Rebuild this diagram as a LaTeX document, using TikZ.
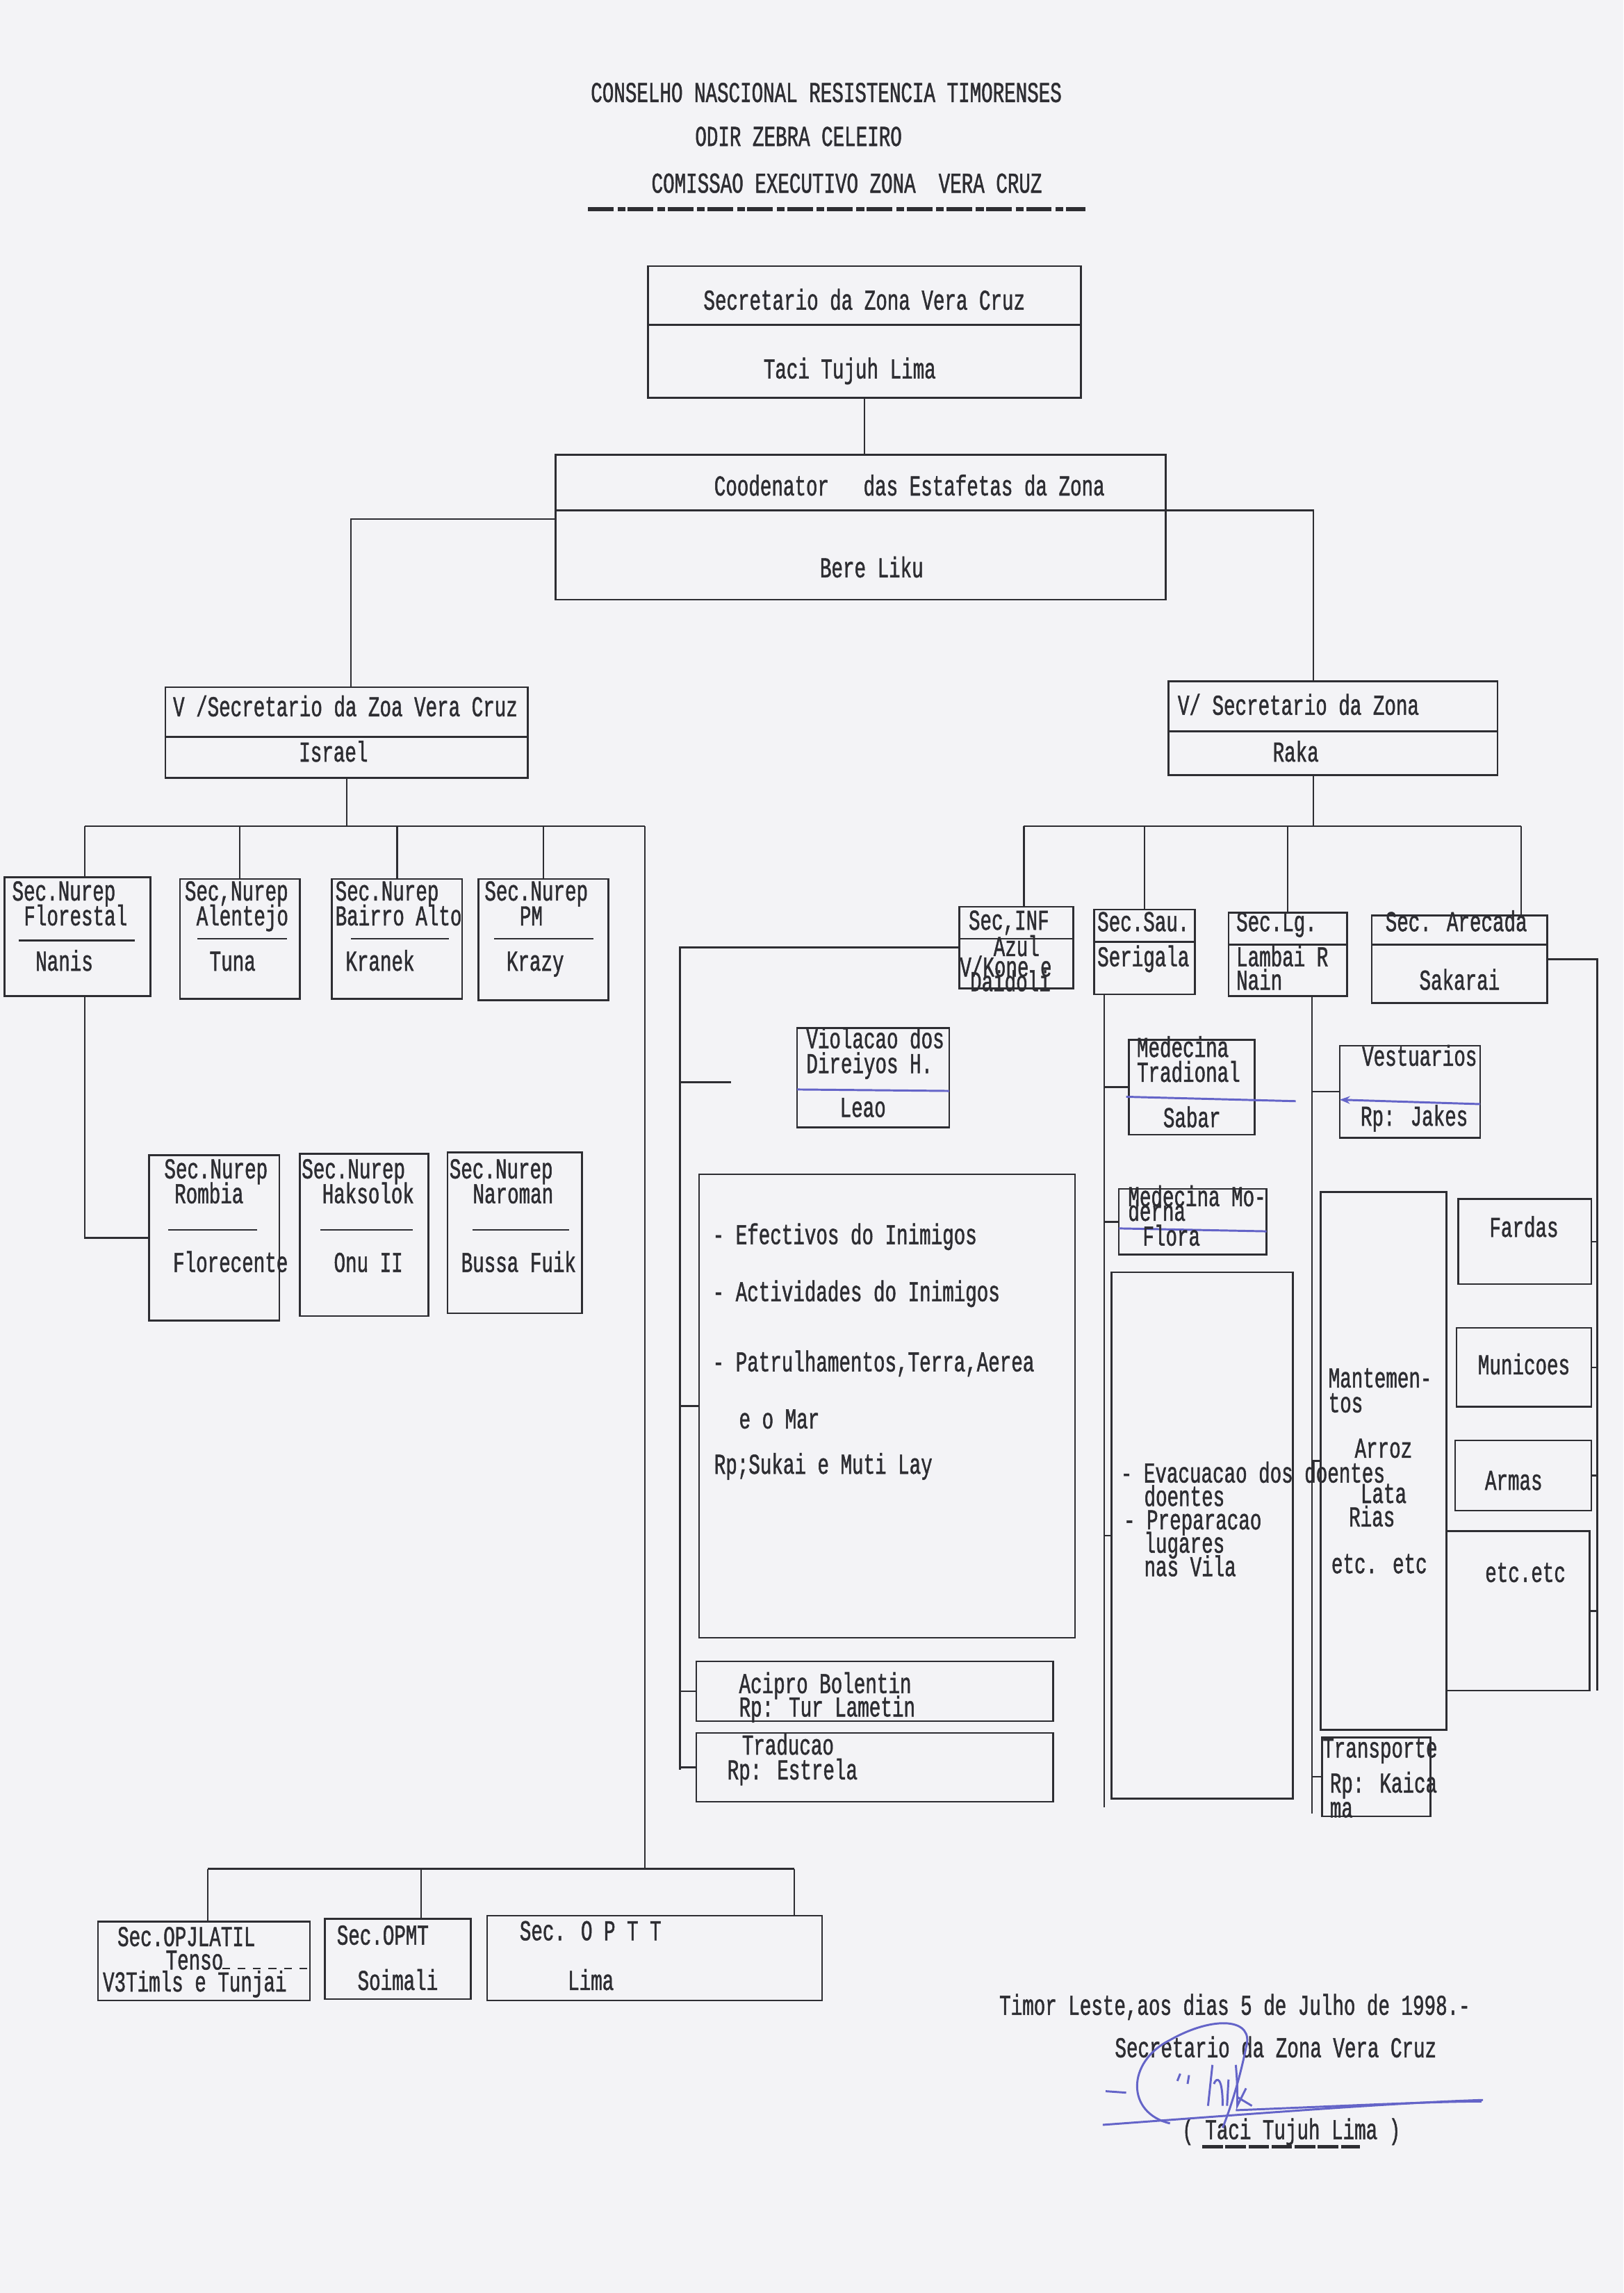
\documentclass[tikz,border=0pt]{standalone}
\usepackage{fontspec}
\newfontfamily\typew{Liberation Mono}[FakeStretch=0.665, FakeBold=1.2]
\usepackage{tikz}
\usetikzlibrary{arrows.meta, positioning, fit, calc}
\definecolor{paper}{RGB}{243,243,246}
\definecolor{ink}{RGB}{45,45,50}
\definecolor{pen}{RGB}{100,100,200}

\begin{document}
\begin{tikzpicture}[
    x=0.02cm, y=-0.02cm,
    every node/.style={font=\typew\fontsize{11.2}{12}\selectfont, text=ink, inner sep=0pt},
    box/.style={draw=ink, line width=0.7pt, fit={#1}},
    tl/.style={anchor=mid west},
    tc/.style={anchor=mid},
    link/.style={draw=ink, line width=0.7pt},
    penline/.style={draw=pen, line width=0.8pt},
    hdrule/.style={draw=ink, line width=1.8pt, dash pattern=on 10pt off 1.5pt on 3pt off 1pt}
]
    % Paper
    \fill[paper] (0,0) rectangle (1110,1568);
    \useasboundingbox (0,0) rectangle (1110,1568);

    % Heading
    \node[tc] (hd1) at (565,66) {CONSELHO NASCIONAL RESISTENCIA TIMORENSES};
    \node[tc] (hd2) at (546,96) {ODIR ZEBRA CELEIRO};
    \node[tc] (hd3) at (579,128) {COMISSAO EXECUTIVO ZONA\ \ VERA CRUZ};
    \draw[hdrule] (402,143) -- (742,143);

    % Secretario and Coodenator
    \node[box={(443,182) (739,272)}] (sec) {};
    \draw[link] (sec.west |- 0,222) -- (sec.east |- 0,222);
    \node[tc] (secT) at (591,208) {Secretario da Zona Vera Cruz};
    \node[tc] (secN) at (581,255) {Taci Tujuh Lima};

    \node[box={(380,311) (797,410)}] (cod) {};
    \draw[link] (cod.west |- 0,349) -- (cod.east |- 0,349);
    \node[tl] (codT) at (488,335) {Coodenator\ \ \ das Estafetas da Zona};
    \node[tc] (codN) at (596,391) {Bere Liku};
    \draw[link] (sec.south) -- (sec.south |- cod.north);

    % Vice secretarios
    \node[box={(113,470) (361,532)}] (vsl) {};
    \draw[link] (vsl.west |- 0,504) -- (vsl.east |- 0,504);
    \node[tl] (vslT) at (118,486) {V /Secretario da Zoa Vera Cruz};
    \node[tc] (vslN) at (228,517) {Israel};

    \node[box={(799,466) (1024,530)}] (vsr) {};
    \draw[link] (vsr.west |- 0,500) -- (vsr.east |- 0,500);
    \node[tl] (vsrT) at (805,485) {V/ Secretario da Zona};
    \node[tc] (vsrN) at (886,517) {Raka};

    \coordinate (jL) at (240,355);
    \coordinate (jR) at (898,349);
    \draw[link] (cod.west |- jL) -- (jL) -- (jL |- vsl.north);
    \draw[link] (cod.east |- jR) -- (jR) -- (jR |- vsr.north);

    % Nurep, first row
    \node[box={(3,600) (103,681)}] (nfl) {};
    \draw[link] (13,643) -- (92,643);
    \node[tl] (nflA) at (8,612) {Sec.Nurep};
    \node[tl] (nflB) at (16,629) {Florestal};
    \node[tl] (nflC) at (24,660) {Nanis};

    \node[box={(123,601) (205,683)}] (nal) {};
    \draw[link] (135,642) -- (196,642);
    \node[tl] (nalA) at (126,612) {Sec,Nurep};
    \node[tl] (nalB) at (134,629) {Alentejo};
    \node[tl] (nalC) at (143,660) {Tuna};

    \node[box={(227,601) (316,683)}] (nba) {};
    \draw[link] (240,642) -- (307,642);
    \node[tl] (nbaA) at (229,612) {Sec.Nurep};
    \node[tl] (nbaB) at (229,629) {Bairro Alto};
    \node[tl] (nbaC) at (236,660) {Kranek};

    \node[box={(327,601) (416,684)}] (npm) {};
    \draw[link] (338,642) -- (406,642);
    \node[tl] (npmA) at (331,612) {Sec.Nurep};
    \node[tl] (npmB) at (355,629) {PM};
    \node[tl] (npmC) at (346,660) {Krazy};

    \coordinate (hL1) at (58,565);
    \coordinate (hL2) at (441,565);
    \draw[link] (vsl.south) -- (vsl.south |- hL1);
    \draw[link] (hL1) -- (hL2);
    \draw[link] (hL1) -- (hL1 |- nfl.north);
    \foreach \b in {nal, nba, npm}
        \draw[link] (hL1 -| \b.north) -- (\b.north);

    % Nurep, second row
    \node[box={(102,790) (191,903)}] (nro) {};
    \draw[link] (115,841) -- (176,841);
    \node[tl] (nroA) at (112,802) {Sec.Nurep};
    \node[tl] (nroB) at (119,819) {Rombia};
    \node[tl] (nroC) at (118,866) {Florecente};

    \node[box={(205,789) (293,900)}] (nha) {};
    \draw[link] (219,841) -- (282,841);
    \node[tl] (nhaA) at (206,802) {Sec.Nurep};
    \node[tl] (nhaB) at (220,819) {Haksolok};
    \node[tl] (nhaC) at (228,866) {Onu II};

    \node[box={(306,788) (398,898)}] (nna) {};
    \draw[link] (323,841) -- (389,841);
    \node[tl] (nnaA) at (307,802) {Sec.Nurep};
    \node[tl] (nnaB) at (323,819) {Naroman};
    \node[tl] (nnaC) at (315,866) {Bussa Fuik};

    \draw[link] (hL1 |- nfl.south) |- (nro.west);

    % Sectors under Raka
    \node[box={(656,620) (734,676)}] (inf) {};
    \draw[link] (inf.west |- 0,642) -- (inf.east |- 0,642);
    \node[tl] (infA) at (662,632) {Sec,INF};
    \node[tl] (infB) at (679,650) {Azul};
    \node[tl] (infC) at (656,664) {V/Kone e};
    \node[tl] (infD) at (663,674) {Daidoli};

    \node[box={(748,622) (817,680)}] (sau) {};
    \draw[link] (sau.west |- 0,644) -- (sau.east |- 0,644);
    \node[tl] (sauA) at (750,633) {Sec.Sau.};
    \node[tl] (sauB) at (750,657) {Serigala};

    \node[box={(840,624) (921,681)}] (slg) {};
    \draw[link] (slg.west |- 0,646) -- (slg.east |- 0,646);
    \node[tl] (slgA) at (845,633) {Sec.Lg.};
    \node[tl] (slgB) at (845,657) {Lambai R};
    \node[tl] (slgC) at (845,673) {Nain};

    \node[box={(938,626) (1058,686)}] (sar) {};
    \draw[link] (sar.west |- 0,646) -- (sar.east |- 0,646);
    \node[tl] (sarA) at (947,633) {Sec. Arecada};
    \node[tc] (sarB) at (998,673) {Sakarai};

    \coordinate (hR1) at (700,565);
    \coordinate (hR2) at (1040,565);
    \draw[link] (jR |- vsr.south) -- (jR |- hR1);
    \draw[link] (hR1) -- (hR2);
    \draw[link] (hR1) -- (hR1 |- inf.north);
    \draw[link] (hR2) -- (hR2 |- sar.north);
    \foreach \b in {sau, slg}
        \draw[link] (hR1 -| \b.north) -- (\b.north);

    % Informacao
    \node[box={(545,703) (649,771)}] (vio) {};
    \draw[penline] (545,745) -- (649,746);
    \node[tl] (vioA) at (551,713) {Violacao dos};
    \node[tl] (vioB) at (551,730) {Direiyos H.};
    \node[tc] (vioC) at (590,760) {Leao};

    \node[box={(478,803) (735,1120)}] (eff) {};
    \node[tl] (effA) at (487,847) {- Efectivos do Inimigos};
    \node[tl] (effB) at (487,886) {- Actividades do Inimigos};
    \node[tl] (effC) at (487,934) {- Patrulhamentos,Terra,Aerea};
    \node[tl] (effD) at (505,973) {e o Mar};
    \node[tl] (effE) at (488,1004) {Rp;Sukai e Muti Lay};

    \node[box={(476,1136) (720,1177)}] (aci) {};
    \node[tl] (aciA) at (505,1154) {Acipro Bolentin};
    \node[tl] (aciB) at (505,1170) {Rp: Tur Lametin};

    \node[box={(476,1185) (720,1232)}] (tra) {};
    \node[tl] (traA) at (507,1196) {Traducao};
    \node[tl] (traB) at (497,1213) {Rp: Estrela};

    \coordinate (jI) at (465,1210);
    \coordinate (vioStub) at (500,740);
    \draw[link] (inf.west) -| (jI);
    \draw[link] (jI |- vioStub) -- (vioStub);
    \foreach \b in {eff, aci, tra}
        \draw[link] (jI |- \b.west) -- (\b.west);

    % Saude
    \node[box={(772,711) (858,776)}] (mtr) {};
    \draw[penline] (770,750) -- (886,753);
    \node[tl] (mtrA) at (777,719) {Medecina};
    \node[tl] (mtrB) at (777,736) {Tradional};
    \node[tc] (mtrC) at (815,767) {Sabar};

    \node[box={(765,813) (866,858)}] (mmo) {};
    \draw[penline] (765,840) -- (866,842);
    \node[tl] (mmoA) at (771,821) {Medecina Mo-};
    \node[tl] (mmoB) at (771,831) {derna};
    \node[tl] (mmoC) at (781,848) {Flora};

    \node[box={(760,870) (884,1230)}] (eva) {};
    \node[tl] (evaA) at (766,1010) {- Evacuacao dos doentes};
    \node[tl] (evaB) at (782,1026) {doentes};
    \node[tl] (evaC) at (768,1042) {- Preparacao};
    \node[tl] (evaD) at (782,1058) {lugares};
    \node[tl] (evaE) at (782,1074) {nas Vila};

    \coordinate (jS) at (755,1236);
    \draw[link] (jS |- sau.south) -- (jS);
    \foreach \b in {mtr, mmo, eva}
        \draw[link] (jS |- \b.west) -- (\b.west);

    % Logistica
    \node[box={(916,715) (1012,778)}] (ves) {};
    \draw[penline, -{Stealth[length=4pt]}] (1012,755) -- (916,752);
    \node[tl] (vesA) at (931,725) {Vestuarios};
    \node[tl] (vesB) at (930,766) {Rp: Jakes};

    \node[box={(903,815) (989,1183)}] (man) {};
    \node[tl] (manA) at (908,945) {Mantemen-};
    \node[tl] (manB) at (908,962) {tos};
    \node[tl] (manC) at (926,993) {Arroz};
    \node[tl] (manD) at (930,1024) {Lata};
    \node[tl] (manE) at (922,1040) {Rias};
    \node[tl] (manF) at (910,1072) {etc. etc};

    \node[box={(904,1188) (978,1242)}] (tsp) {};
    \node[tl] (tspA) at (904,1198) {Transporte};
    \node[tl] (tspB) at (909,1222) {Rp: Kaica};
    \node[tl] (tspC) at (909,1239) {ma};

    \coordinate (jG) at (897,1240);
    \draw[link] (jG |- slg.south) -- (jG);
    \foreach \b in {ves, man, tsp}
        \draw[link] (jG |- \b.west) -- (\b.west);

    % Arecada
    \node[box={(997,820) (1088,878)}] (far) {};
    \node[tc] (farA) at (1042,842) {Fardas};
    \node[box={(996,908) (1088,962)}] (mun) {};
    \node[tc] (munA) at (1042,936) {Municoes};
    \node[box={(995,985) (1088,1033)}] (arm) {};
    \node[tc] (armA) at (1035,1015) {Armas};
    \node[box={(989,1047) (1087,1156)}] (etc) {};
    \node[tc] (etcA) at (1043,1078) {etc.etc};

    \coordinate (jA) at (1092,1156);
    \draw[link] (sar.east) -| (jA);
    \foreach \b in {far, mun, arm, etc}
        \draw[link] (\b.east) -- (\b.east -| jA);

    % Bottom row
    \node[box={(67,1314) (212,1368)}] (opj) {};
    \draw[link, dashed] (152,1346) -- (opj.east |- 0,1346);
    \node[tl] (opjA) at (80,1327) {Sec.OPJLATIL};
    \node[tc] (opjB) at (133,1343) {Tenso};
    \node[tl] (opjC) at (70,1358) {V3Timls e Tunjai};

    \node[box={(222,1312) (322,1367)}] (opm) {};
    \node[tl] (opmA) at (230,1326) {Sec.OPMT};
    \node[tc] (opmB) at (272,1357) {Soimali};

    \node[box={(333,1310) (562,1368)}] (opt) {};
    \node[tl] (optA) at (355,1323) {Sec. O P T T};
    \node[tc] (optB) at (404,1357) {Lima};

    \coordinate (hB1) at (142,1278);
    \coordinate (hB2) at (543,1278);
    \coordinate (hB3) at (288,1278);
    \draw[link] (hL2) -- (hL2 |- hB1);
    \draw[link] (hB1) -- (hB2);
    \foreach \c/\b in {hB1/opj, hB3/opm, hB2/opt}
        \draw[link] (\c) -- (\c |- \b.north);

    % Closing and signature
    \node[tl] (place) at (683,1374) {Timor Leste,aos dias 5 de Julho de 1998.-};
    \node[tl] (role) at (762,1403) {Secretario da Zona Vera Cruz};
    \node[tl] (who) at (808,1459) {( Taci Tujuh Lima )};
    \draw[ink, line width=1.4pt, dash pattern=on 8pt off 1pt] (822,1468) -- (930,1468);

    \draw[penline] (756,1430) -- (770,1431);
    \draw[penline] (800,1452) .. controls (770,1445) and (770,1410) .. (800,1395)
        .. controls (830,1378) and (858,1380) .. (852,1400)
        .. controls (848,1420) and (842,1440) .. (836,1455);
    \draw[penline] (805,1423) -- (807,1418) (812,1425) -- (813,1419);
    \draw[penline] (826,1440) -- (829,1412) (830,1425) .. controls (832,1420) and (836,1420) .. (836,1440)
        (840,1422) -- (839,1440) (845,1412) .. controls (846,1425) .. (846,1440) -- (852,1428)
        (846,1434) -- (856,1440);
    \draw[penline] (754,1453) .. controls (850,1446) and (950,1438) .. (1014,1436);
    \draw[penline] (845,1443) .. controls (920,1440) and (980,1437) .. (1013,1437);
\end{tikzpicture}
\end{document}
